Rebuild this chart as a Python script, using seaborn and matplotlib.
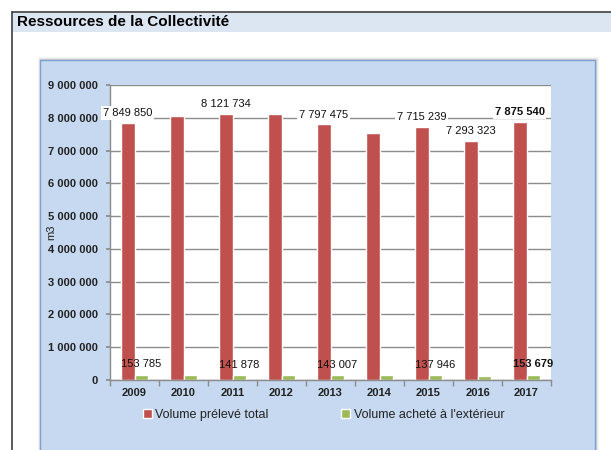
import matplotlib
matplotlib.use("Agg")
import matplotlib.pyplot as plt
import seaborn as sns
import pandas as pd
from matplotlib.patches import Rectangle
from matplotlib.ticker import FuncFormatter, MultipleLocator

years = ["2009", "2010", "2011", "2012", "2013", "2014", "2015", "2016", "2017"]
preleve = [7849850, 8060000, 8121734, 8110000, 7797475, 7540000, 7715239, 7293323, 7875540]
achete = [153785, 145000, 141878, 145000, 143007, 140000, 137946, 130000, 153679]
series_names = ["Volume prélevé total", "Volume acheté à l'extérieur"]
preleve_labels = ["7 849 850", "", "8 121 734", "", "7 797 475", "", "7 715 239", "7 293 323", "7 875 540"]
achete_labels = ["153 785", "", "141 878", "", "143 007", "", "137 946", "", "153 679"]
title = "Ressources de la Collectivité"

df = pd.DataFrame({
    "year": years * 2,
    "value": preleve + achete,
    "series": [series_names[0]] * len(years) + [series_names[1]] * len(years),
})

sns.set_theme(style="white")
plt.rcParams["font.family"] = ["Liberation Sans", "DejaVu Sans"]

W, H = 611, 450
fig = plt.figure(figsize=(W / 100, H / 100), dpi=100)
fig.patch.set_facecolor("white")

def fr(x0, y0, x1, y1, **kw):
    r = Rectangle((x0 / W, 1 - y1 / H), (x1 - x0) / W, (y1 - y0) / H,
                  transform=fig.transFigure, **kw)
    fig.patches.append(r)
    return r

# title bar
fr(12, 12, 611, 32, facecolor="#dce6f2", edgecolor="none", zorder=-5)
fig.add_artist(plt.Line2D([12 / W, 1], [1 - 12 / H, 1 - 12 / H], color="#404040", lw=1.2, transform=fig.transFigure, zorder=-4))
fig.add_artist(plt.Line2D([12 / W, 12 / W], [0, 1 - 12 / H], color="#404040", lw=1.2, transform=fig.transFigure, zorder=-4))
fig.text(17 / W, 1 - 22 / H, title, fontsize=11, fontweight="bold", color="black", va="center", ha="left")

# chart area shadow + background
for i, a in enumerate([0.08, 0.12, 0.18]):
    d = 3 - i
    fr(40 - d + 1, 60 - d, 595 + d + 1, 452, facecolor="#808080", alpha=a, edgecolor="none", zorder=-3)
fr(40, 60, 595, 452, facecolor="#c6d9f0", edgecolor="#7f9fcf", lw=1.0, zorder=-2)

ax = fig.add_axes([110 / W, 1 - 380 / H, (551 - 110) / W, (380 - 85) / H])
ax.set_zorder(10)
ax.set_facecolor("white")

sns.barplot(data=df, x="year", y="value", hue="series",
            palette=["#c0504d", "#9bbb59"], width=0.57, gap=0,
            saturation=1, ax=ax, legend=True)

ax.set_ylim(0, 9000000)
ax.yaxis.set_major_locator(MultipleLocator(1000000))
ax.yaxis.set_major_formatter(FuncFormatter(lambda v, p: f"{int(v):,}".replace(",", " ")))
ax.grid(axis="y", color="#8c8c8c", lw=1.0)
ax.set_axisbelow(True)
for s in ["top", "right"]:
    ax.spines[s].set_visible(False)
ax.spines["left"].set_color("#8c8c8c")
ax.spines["bottom"].set_color("#8c8c8c")
ax.spines["left"].set_linewidth(1.0)
ax.spines["bottom"].set_linewidth(1.0)

ax.set_xlabel("")
ax.set_ylabel("m3", fontsize=8, color="#222222")
ax.yaxis.set_label_coords((56 - 110) / 441, 0.5)
ax.tick_params(axis="y", labelsize=8, colors="#222222", length=3, left=True, color="#8c8c8c", pad=6)
ax.tick_params(axis="x", labelsize=8, colors="#222222", length=0, pad=6)
for t in ax.get_yticklabels() + ax.get_xticklabels():
    t.set_fontweight("bold")
ax.set_xticks([i + 0.5 for i in range(-1, len(years))], minor=True)
ax.tick_params(axis="x", which="minor", length=4, color="#8c8c8c", bottom=True)
ax.set_xlim(-0.5, len(years) - 0.5)

bbox = dict(boxstyle="square,pad=0.15", facecolor="white", edgecolor="none")
t1 = ax.bar_label(ax.containers[0], labels=preleve_labels, padding=3.5, fontsize=8, color="#111111", bbox=bbox)
t2 = ax.bar_label(ax.containers[1], labels=achete_labels, padding=4, fontsize=8, color="#111111")
t1[-1].set_fontweight("bold")
t2[-1].set_fontweight("bold")

leg = ax.legend(loc="center", bbox_to_anchor=(323.5 / W, 1 - 415 / H), bbox_transform=fig.transFigure,
                ncol=2, frameon=False, fontsize=9, handlelength=0.7, handleheight=0.7,
                columnspacing=5.8, handletextpad=0.3)
for t in leg.get_texts():
    t.set_color("#222222")

fig.savefig("out.png", dpi=100)
